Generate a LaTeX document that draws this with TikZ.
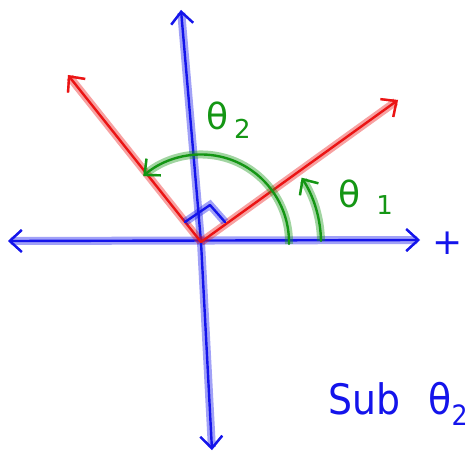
\documentclass[tikz,border=0pt]{standalone}
\usepackage{fontspec}
\setmainfont{DejaVu Sans}
\usetikzlibrary{arrows.meta}
\definecolor{pblue}{RGB}{20,20,235}
\definecolor{pred}{RGB}{235,20,20}
\definecolor{pgreen}{RGB}{20,150,20}
\tikzset{
  ink/.style={line width=2.4pt, line cap=round, line join=round,
    preaction={draw=#1, opacity=0.4, line width=8pt}, draw=#1},
  tip/.style={-{Straight Barb[length=12pt,width=22pt,line width=2.4pt]}},
  tips/.style={{Straight Barb[length=12pt,width=22pt,line width=2.4pt]}-{Straight Barb[length=12pt,width=22pt,line width=2.4pt]}},
  lbl/.style={text=#1, inner sep=0pt, font=\fontsize{36}{40}\selectfont}
}
\begin{document}
\begin{tikzpicture}[x=1pt,y=1pt]
\useasboundingbox (0,0) rectangle (468,456);
\clip (0,0) rectangle (468,456);
\coordinate (O) at (201,214);
\coordinate (L) at (8,215);
\coordinate (R) at (420,216);
\coordinate (T) at (181,446);
\coordinate (B) at (212,6);
\coordinate (RR) at (398,356);
\coordinate (RL) at (68,381);
\coordinate (A2) at (289,212);
\coordinate (A1) at (321,215);
\coordinate (Q1) at (185,234);
\coordinate (Q2) at (210,251);
\coordinate (Q3) at (225,234);
% axes
\draw[ink=pblue, tips] (L) -- (R);
\draw[ink=pblue, tips] (T) -- (O) -- (B);
% red rays
\draw[ink=pred, tip] (O) -- (RR);
\draw[ink=pred, tip] (O) -- (RL);
% angle arcs
\draw[ink=pgreen, tip] (A2) arc[start angle=-1, end angle=131, radius=88];
\draw[ink=pgreen, tip] (A1) arc[start angle=1, end angle=33, radius=120];
% right angle mark
\draw[ink=pblue] (Q1) -- (Q2) -- (Q3);
% labels
\node[lbl=pgreen, anchor=west] (t2) at (206,336) {θ\,\raisebox{-0.25em}{\fontsize{26}{28}\selectfont 2}};
\node[lbl=pgreen, anchor=west] (t1) at (338,259) {θ\hspace{0.45em}\raisebox{-0.2em}{\fontsize{26}{28}\selectfont 1}};
\node[lbl=pblue] (px) at (448,213) {+};
\node[lbl=pblue, anchor=west, font=\fontsize{42}{46}\selectfont, xscale=0.9] (sub) at (328,52) {Sub\hspace{0.75em}θ\raisebox{-0.25em}{\fontsize{28}{30}\selectfont 2}};
\end{tikzpicture}
\end{document}
